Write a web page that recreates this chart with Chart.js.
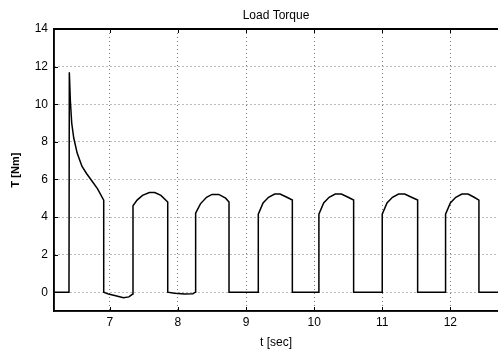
<!DOCTYPE html>
<html>
<head>
<meta charset="utf-8">
<script src="https://cdn.jsdelivr.net/npm/chart.js@4.4.1/dist/chart.umd.min.js"></script>
<style>
  html, body { margin: 0; padding: 0; background: #fff; }
  #wrap { width: 498px; height: 354px; }
</style>
</head>
<body>
<div id="wrap"><canvas id="torqueChart" width="498" height="354"></canvas></div>
<script>
// time [sec] and load torque [Nm]
const tValues = [
  6.18, 6.40, 6.405, 6.42, 6.44, 6.47, 6.52, 6.59, 6.66, 6.74, 6.82, 6.91,
  6.91, 6.98, 7.10, 7.20, 7.28, 7.335,
  7.34, 7.40, 7.48, 7.58, 7.66, 7.75, 7.85,
  7.85, 7.95, 8.10, 8.22, 8.255,
  8.26, 8.33, 8.42, 8.50, 8.60, 8.70, 8.75,
  8.75, 9.18,
  9.18, 9.25, 9.33, 9.42, 9.50, 9.60, 9.68,
  9.68, 10.07,
  10.07, 10.14, 10.22, 10.31, 10.40, 10.50, 10.58,
  10.58, 11.00,
  11.00, 11.07, 11.15, 11.24, 11.33, 11.43, 11.52,
  11.52, 11.93,
  11.93, 12.00, 12.08, 12.17, 12.26, 12.35, 12.42,
  12.42, 12.70
];
const torqueValues = [
  0, 0, 11.7, 10.2, 9.0, 8.2, 7.4, 6.7, 6.3, 5.9, 5.5, 4.9,
  0, -0.1, -0.2, -0.3, -0.25, -0.1,
  4.6, 4.9, 5.15, 5.3, 5.3, 5.15, 4.8,
  0, -0.05, -0.1, -0.08, 0,
  4.2, 4.7, 5.05, 5.2, 5.2, 5.0, 4.8,
  0, 0,
  4.15, 4.75, 5.05, 5.22, 5.22, 5.05, 4.9,
  0, 0,
  4.15, 4.75, 5.05, 5.22, 5.22, 5.05, 4.9,
  0, 0,
  4.15, 4.75, 5.05, 5.22, 5.22, 5.05, 4.9,
  0, 0,
  4.15, 4.75, 5.05, 5.22, 5.22, 5.05, 4.9,
  0, 0
];
const xTickValues = [7, 8, 9, 10, 11, 12];
const yTickValues = [0, 2, 4, 6, 8, 10, 12, 14];

const points = tValues.map((t, i) => ({ x: t, y: torqueValues[i] }));

// MATLAB-like frame: title over the plot area, inward ticks, top border
const framePlugin = {
  id: "frame",
  afterDraw(chart) {
    const ctx = chart.ctx;
    const a = chart.chartArea;
    const xs = chart.scales.x;
    const ys = chart.scales.y;
    ctx.save();
    ctx.strokeStyle = "#000";
    ctx.lineWidth = 1;
    ctx.beginPath();
    xTickValues.forEach((v) => {
      const px = Math.round(xs.getPixelForValue(v)) + 0.5;
      ctx.moveTo(px, a.bottom); ctx.lineTo(px, a.bottom - 4);
      ctx.moveTo(px, a.top); ctx.lineTo(px, a.top + 4);
    });
    yTickValues.forEach((v) => {
      const py = Math.round(ys.getPixelForValue(v)) + 0.5;
      ctx.moveTo(a.left, py); ctx.lineTo(a.left + 4, py);
    });
    ctx.stroke();
    // solid axis lines and top border
    ctx.lineWidth = 1.5;
    ctx.beginPath();
    ctx.moveTo(a.left, a.bottom);
    ctx.lineTo(a.right, a.bottom);
    ctx.moveTo(a.left, a.top);
    ctx.lineTo(a.left, a.bottom);
    ctx.stroke();
    ctx.lineWidth = 2;
    ctx.beginPath();
    ctx.moveTo(a.left, a.top);
    ctx.lineTo(a.right, a.top);
    ctx.stroke();
    ctx.fillStyle = "#000";
    ctx.font = "12px 'Liberation Sans', Arial, sans-serif";
    ctx.textAlign = "center";
    ctx.textBaseline = "middle";
    ctx.fillText("Load Torque", (a.left + a.right) / 2, 16);
    ctx.restore();
  }
};

const ctx = document.getElementById("torqueChart");

new Chart(ctx, {
  type: "line",
  data: {
    datasets: [
      {
        label: "Load Torque",
        data: points,
        borderColor: "#000",
        borderWidth: 1.5,
        pointRadius: 0,
        tension: 0,
        fill: false,
      },
    ],
  },
  options: {
    responsive: false,
    animation: false,
    layout: { padding: { top: 29, right: 0, left: 0, bottom: 0 } },
    plugins: {
      legend: { display: false },
      tooltip: { enabled: false },
    },
    scales: {
      x: {
        type: "linear",
        min: 6.18,
        max: 12.7,
        afterBuildTicks: (scale) => {
          scale.ticks = xTickValues.map((v) => ({ value: v }));
        },
        afterFit: (scale) => { scale.height = 43; },
        grid: {
          color: "#777",
          drawTicks: false,
        },
        border: { color: "#000", width: 1.5, dash: [1, 3] },
        ticks: {
          color: "#000",
          padding: 4,
          maxRotation: 0,
          font: { family: "'Liberation Sans', Arial, sans-serif", size: 12 },
        },
        title: {
          display: true,
          text: "t [sec]",
          color: "#000",
          padding: { top: 0, bottom: 4 },
          font: { family: "'Liberation Sans', Arial, sans-serif", size: 12 },
        },
      },
      y: {
        min: -1,
        max: 14,
        afterBuildTicks: (scale) => {
          scale.ticks = yTickValues.map((v) => ({ value: v }));
        },
        afterFit: (scale) => { scale.width = 54; },
        grid: {
          color: "#777",
          drawTicks: false,
        },
        border: { color: "#000", width: 1.5, dash: [1, 3] },
        ticks: {
          color: "#000",
          padding: 6,
          font: { family: "'Liberation Sans', Arial, sans-serif", size: 12 },
        },
        title: {
          display: true,
          text: "T [Nm]",
          color: "#000",
          padding: { top: 9, bottom: 0 },
          font: { family: "'Liberation Sans', Arial, sans-serif", size: 11, weight: "bold" },
        },
      },
    },
  },
  plugins: [framePlugin],
});
</script>
</body>
</html>
